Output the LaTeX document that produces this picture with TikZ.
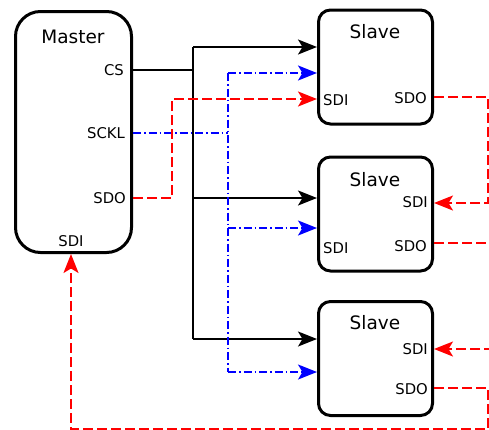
\documentclass[tikz,border=0pt]{standalone}
\usepackage{fontspec}
\setmainfont{DejaVu Sans}
\usetikzlibrary{arrows.meta}
\begin{document}
\begin{tikzpicture}[x=1pt,y=-1pt,
  box/.style={draw,line width=3pt,rounded corners=12pt,inner sep=0pt},
  slavebox/.style={box,minimum width=114pt,minimum height=114pt},
  title/.style={font=\fontsize{18.5}{20}\selectfont,inner sep=0pt},
  lbl/.style={font=\fontsize{14.8}{16}\selectfont,inner sep=0pt},
  wire/.style={line width=1.6pt},
  cs/.style={wire,black},
  clk/.style={wire,blue,dash pattern=on 8pt off 3pt on 1.5pt off 3pt},
  dat/.style={wire,red,dash pattern=on 10pt off 4pt},
  arr/.style={-{Stealth[length=19pt,width=15pt,inset=4.5pt]}}
]
\useasboundingbox (0,0) rectangle (489,429);
% boxes
\node[box,rounded corners=25pt,minimum width=116pt,minimum height=241pt] (M) at (73.5,132) {};
\node[slavebox] (S1) at (375.5,67) {};
\node[slavebox] (S2) at (375.5,214) {};
\node[slavebox] (S3) at (375.5,358.5) {};
% labels
\node[title] (mt) at (73,37) {Master};
\node[lbl,anchor=east] (mcs) at (124,70) {CS};
\node[lbl,anchor=east] (msck) at (125,133) {SCKL};
\node[lbl,anchor=east] (msdo) at (126,198) {SDO};
\node[lbl] (msdi) at (71,241) {SDI};
\node[title] (s1t) at (375,32) {Slave};
\node[lbl,anchor=west] (s1i) at (323,100) {SDI};
\node[lbl,anchor=east] (s1o) at (427,98) {SDO};
\node[title] (s2t) at (375,180) {Slave};
\node[lbl,anchor=east] (s2i) at (428,202) {SDI};
\node[lbl,anchor=west] (s2il) at (323,248) {SDI};
\node[lbl,anchor=east] (s2o) at (427,246) {SDO};
\node[title] (s3t) at (375,323) {Slave};
\node[lbl,anchor=east] (s3i) at (428,349) {SDI};
\node[lbl,anchor=east] (s3o) at (428,389) {SDO};
% CS wires
\coordinate (b0) at (193,47);
\coordinate (b1) at (193,70);
\coordinate (b2) at (193,198);
\coordinate (b3) at (193,339);
\draw[cs] (M.east |- b1) -- (b1);
\draw[cs] (b3) -- (b0);
\draw[cs,arr] (b0) -- (S1.west |- b0);
\draw[cs,arr] (b2) -- (S2.west |- b2);
\draw[cs,arr] (b3) -- (S3.west |- b3);
% clock wires
\coordinate (c0) at (228,73);
\coordinate (c1) at (228,133);
\coordinate (c2) at (228,228);
\coordinate (c3) at (228,372);
\draw[clk] (M.east |- c1) -- (c1);
\draw[clk] (c0) -- (c3);
\draw[clk,arr] (c0) -- (S1.west |- c0);
\draw[clk,arr] (c2) -- (S2.west |- c2);
\draw[clk,arr] (c3) -- (S3.west |- c3);
% data wires
\coordinate (r1) at (172,198);
\coordinate (r2) at (172,99);
\draw[dat,arr] (M.east |- r1) -- (r1) -- (r2) -- (S1.west |- r2);
\coordinate (e1) at (488,97);
\coordinate (e2) at (488,203);
\draw[dat,arr] (S1.east |- e1) -- (e1) -- (e2) -- (S2.east |- e2);
\coordinate (e3) at (494,243);
\draw[dat] (S2.east |- e3) -- (e3);
\coordinate (e4) at (494,349);
\draw[dat,arr] (e4) -- (S3.east |- e4);
\coordinate (e5) at (488,388);
\coordinate (e6) at (488,428.8);
\coordinate (e7) at (71,428.8);
\draw[dat,arr] (S3.east |- e5) -- (e5) -- (e6) -- (e7) -- (M.south -| e7);
\end{tikzpicture}
\end{document}
